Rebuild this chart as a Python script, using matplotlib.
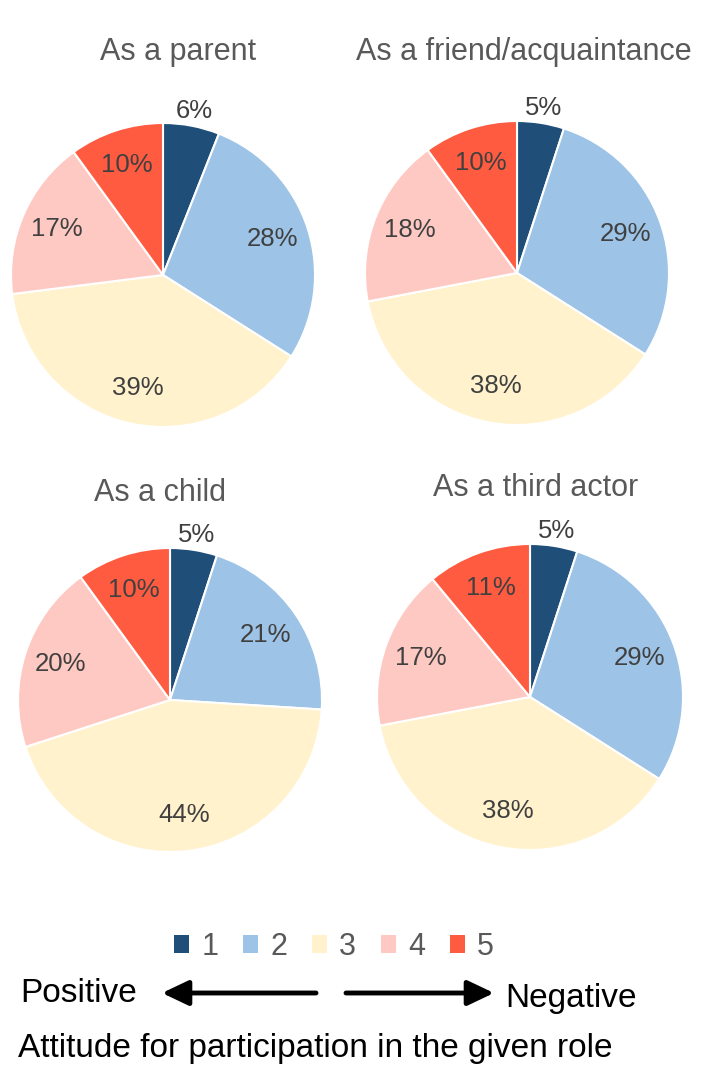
import matplotlib
matplotlib.use("Agg")
import matplotlib.pyplot as plt
from matplotlib.patches import Patch, FancyArrowPatch

plt.rcParams["font.family"] = ["Liberation Sans", "DejaVu Sans"]

W, H = 708, 1089

categories = ["1", "2", "3", "4", "5"]
colors = ["#1F4E79", "#9DC3E6", "#FFF2CC", "#FFC9C3", "#FF5B40"]

roles = ["As a parent", "As a friend/acquaintance", "As a child", "As a third actor"]
parent = [6, 28, 39, 17, 10]
friend = [5, 29, 38, 18, 10]
child = [5, 21, 44, 20, 10]
third = [5, 29, 38, 17, 11]
shares = [parent, friend, child, third]

# pie centre x, centre y, radius (pixels) and title position
layout = [
    (163, 275, 152, 178, 52),
    (517, 273, 152, 524, 52),
    (170, 700, 152, 160, 493),
    (530, 697, 153, 536, 488),
]


def fx(x):
    return x / W


def fy(y):
    return 1 - y / H


fig = plt.figure(figsize=(W / 100, H / 100), dpi=100)

for title, vals, (cx, cy, r, tx, ty) in zip(roles, shares, layout):
    ax = fig.add_axes([fx(cx - r), fy(cy + r), 2 * r / W, 2 * r / H])
    wedges, texts, autotexts = ax.pie(
        vals,
        colors=colors,
        startangle=90,
        counterclock=False,
        autopct="%d%%",
        pctdistance=0.76,
        wedgeprops=dict(edgecolor="white", linewidth=1.5),
        textprops=dict(fontsize=18.5, color="#404040"),
    )
    for v, t in zip(vals, autotexts):
        t.set_text(f"{v}%")
        if v <= 6:
            x, y = t.get_position()
            t.set_position((x * 1.1 / 0.76, y * 1.1 / 0.76))
    ax.set_xlim(-1, 1)
    ax.set_ylim(-1, 1)
    ax.set_aspect("equal")
    ax.axis("off")
    fig.text(fx(tx), fy(ty), title, ha="center", va="center", fontsize=22, color="#595959")

handles = [Patch(facecolor=c, edgecolor="none") for c in colors]
fig.legend(
    handles, categories, loc="center", bbox_to_anchor=(fx(334), fy(947)),
    ncol=5, frameon=False, fontsize=22, labelcolor="#595959",
    handlelength=0.5, handleheight=0.5, handletextpad=0.4, columnspacing=0.8,
)

# direction arrows
arrow = dict(arrowstyle="-|>,head_length=0.8,head_width=0.38", color="black",
             lw=3.5, mutation_scale=20, shrinkA=0, shrinkB=0)
fig.add_artist(FancyArrowPatch(
    (fx(316), fy(993)), (fx(162), fy(993)), transform=fig.transFigure, **arrow))
fig.add_artist(FancyArrowPatch(
    (fx(346), fy(993)), (fx(494), fy(993)), transform=fig.transFigure, **arrow))

fig.text(fx(20), fy(993), "Positive", ha="left", va="center", fontsize=24)
fig.text(fx(505), fy(999), "Negative", ha="left", va="center", fontsize=24)
fig.text(fx(18), fy(1048), "Attitude for participation in the given role",
         ha="left", va="center", fontsize=24)

fig.savefig("out.png", dpi=100, facecolor="white")
